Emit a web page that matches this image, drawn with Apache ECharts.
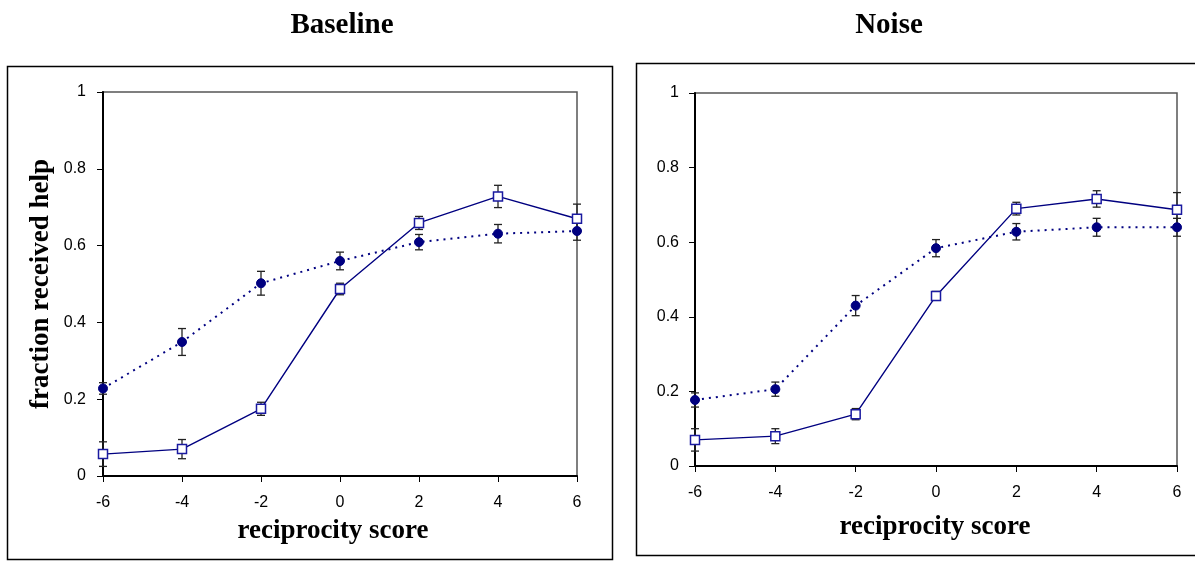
<!DOCTYPE html>
<html>
<head>
<meta charset="utf-8">
<script src="https://cdn.jsdelivr.net/npm/echarts@6/dist/echarts.min.js"></script>
<style>
  html, body { margin: 0; padding: 0; background: #fff; }
  #chart { width: 1195px; height: 561px; }
</style>
</head>
<body>
<div id="chart"></div>
<script>
// reciprocity score on x
var scores = [-6, -4, -2, 0, 2, 4, 6]
var yTicks = [0, 0.2, 0.4, 0.6, 0.8, 1]

// Baseline panel
var baselineCircle = [0.228, 0.349, 0.502, 0.560, 0.609, 0.631, 0.638]
var baselineCircleErr = [0.015, 0.035, 0.031, 0.023, 0.020, 0.024, 0.024]
var baselineSquare = [0.057, 0.070, 0.175, 0.487, 0.659, 0.728, 0.670]
var baselineSquareErr = [0.032, 0.025, 0.017, 0.015, 0.017, 0.029, 0.038]

// Noise panel
var noiseCircle = [0.177, 0.206, 0.430, 0.584, 0.628, 0.640, 0.640]
var noiseCircleErr = [0.019, 0.019, 0.027, 0.023, 0.022, 0.024, 0.024]
var noiseSquare = [0.070, 0.080, 0.139, 0.456, 0.690, 0.716, 0.687]
var noiseSquareErr = [0.030, 0.020, 0.015, 0.012, 0.017, 0.022, 0.046]

var NAVY = '#000080'
var serif = '"Liberation Serif", "DejaVu Serif", serif'
var sans = '"Liberation Sans", Arial, sans-serif'

var chart = echarts.init(document.getElementById('chart'))

function pairs(vals) {
  return scores.map(function (s, i) { return [s, vals[i]] })
}

function errBars(vals, errs, idx) {
  return {
    type: 'custom',
    xAxisIndex: idx,
    yAxisIndex: idx,
    z: 1,
    silent: true,
    data: scores.map(function (s, i) { return [s, vals[i] - errs[i], vals[i] + errs[i]] }),
    renderItem: function (params, api) {
      var lo = api.coord([api.value(0), api.value(1)])
      var hi = api.coord([api.value(0), api.value(2)])
      var w = 4
      var st = { stroke: '#222', lineWidth: 1.3 }
      return {
        type: 'group',
        children: [
          { type: 'line', shape: { x1: lo[0], y1: lo[1], x2: hi[0], y2: hi[1] }, style: st },
          { type: 'line', shape: { x1: lo[0] - w, y1: lo[1], x2: lo[0] + w, y2: lo[1] }, style: st },
          { type: 'line', shape: { x1: hi[0] - w, y1: hi[1], x2: hi[0] + w, y2: hi[1] }, style: st }
        ]
      }
    }
  }
}

function xAxisCfg(idx, gap, pad) {
  return {
    type: 'value',
    gridIndex: idx,
    min: -6,
    max: 6,
    interval: 2,
    name: 'reciprocity score',
    nameLocation: 'middle',
    nameGap: gap,
    nameTextStyle: { fontFamily: serif, fontWeight: 'bold', fontSize: 27, color: '#000', padding: [0, pad, 0, 0] },
    axisLine: { onZero: false, lineStyle: { color: '#000', width: 2 } },
    axisTick: { show: true, length: 6, lineStyle: { color: '#000', width: 1 } },
    axisLabel: { fontFamily: sans, fontSize: 16, color: '#000', margin: 19 },
    splitLine: { show: false }
  }
}

function yAxisCfg(idx, withName, margin) {
  return {
    type: 'value',
    gridIndex: idx,
    min: 0,
    max: 1,
    interval: 0.2,
    name: withName ? 'fraction received help' : '',
    nameLocation: 'middle',
    nameGap: 48,
    nameTextStyle: { fontFamily: serif, fontWeight: 'bold', fontSize: 27, color: '#000' },
    axisLine: { onZero: false, lineStyle: { color: '#000', width: 2 } },
    axisTick: { show: true, length: 6, lineStyle: { color: '#000', width: 1 } },
    axisLabel: {
      fontFamily: sans, fontSize: 16, color: '#000', margin: margin,
      formatter: function (v) { return yTicks.indexOf(+v.toFixed(1)) >= 0 ? String(+v.toFixed(1)) : '' }
    },
    splitLine: { show: false }
  }
}

function circleLine(vals, idx) {
  return {
    type: 'line',
    xAxisIndex: idx,
    yAxisIndex: idx,
    z: 3,
    data: pairs(vals),
    symbol: 'circle',
    symbolSize: 9,
    itemStyle: { color: NAVY, borderColor: NAVY },
    lineStyle: { color: NAVY, width: 2, type: [2, 5] },
    animation: false
  }
}

function squareLine(vals, idx) {
  return {
    type: 'line',
    xAxisIndex: idx,
    yAxisIndex: idx,
    z: 4,
    data: pairs(vals),
    symbol: 'rect',
    symbolSize: 9,
    itemStyle: { color: '#fff', borderColor: '#1a1aa0', borderWidth: 1.5 },
    lineStyle: { color: NAVY, width: 1.4 },
    animation: false
  }
}

chart.setOption({
  animation: false,
  backgroundColor: '#fff',
  title: [
    { text: 'Baseline', left: 337, top: 6, textAlign: 'center',
      textStyle: { fontFamily: serif, fontWeight: 'bold', fontSize: 29, color: '#000' } },
    { text: 'Noise', left: 884, top: 6, textAlign: 'center',
      textStyle: { fontFamily: serif, fontWeight: 'bold', fontSize: 29, color: '#000' } }
  ],
  graphic: [
    { type: 'rect', z: 0, shape: { x: 7.5, y: 66.5, width: 605, height: 493 },
      style: { fill: 'none', stroke: '#000', lineWidth: 1.5 } },
    { type: 'rect', z: 0, shape: { x: 636.5, y: 63.5, width: 570, height: 492 },
      style: { fill: 'none', stroke: '#000', lineWidth: 1.5 } }
  ],
  grid: [
    { left: 103, top: 92, width: 474, height: 384, show: true, borderColor: '#555', borderWidth: 1.5, backgroundColor: 'transparent' },
    { left: 695, top: 93, width: 482, height: 373, show: true, borderColor: '#555', borderWidth: 1.5, backgroundColor: 'transparent' }
  ],
  xAxis: [xAxisCfg(0, 42, 14), xAxisCfg(1, 48, 2)],
  yAxis: [yAxisCfg(0, true, 17), yAxisCfg(1, false, 16)],
  series: [
    errBars(baselineCircle, baselineCircleErr, 0),
    errBars(baselineSquare, baselineSquareErr, 0),
    circleLine(baselineCircle, 0),
    squareLine(baselineSquare, 0),
    errBars(noiseCircle, noiseCircleErr, 1),
    errBars(noiseSquare, noiseSquareErr, 1),
    circleLine(noiseCircle, 1),
    squareLine(noiseSquare, 1)
  ]
})
</script>
</body>
</html>
